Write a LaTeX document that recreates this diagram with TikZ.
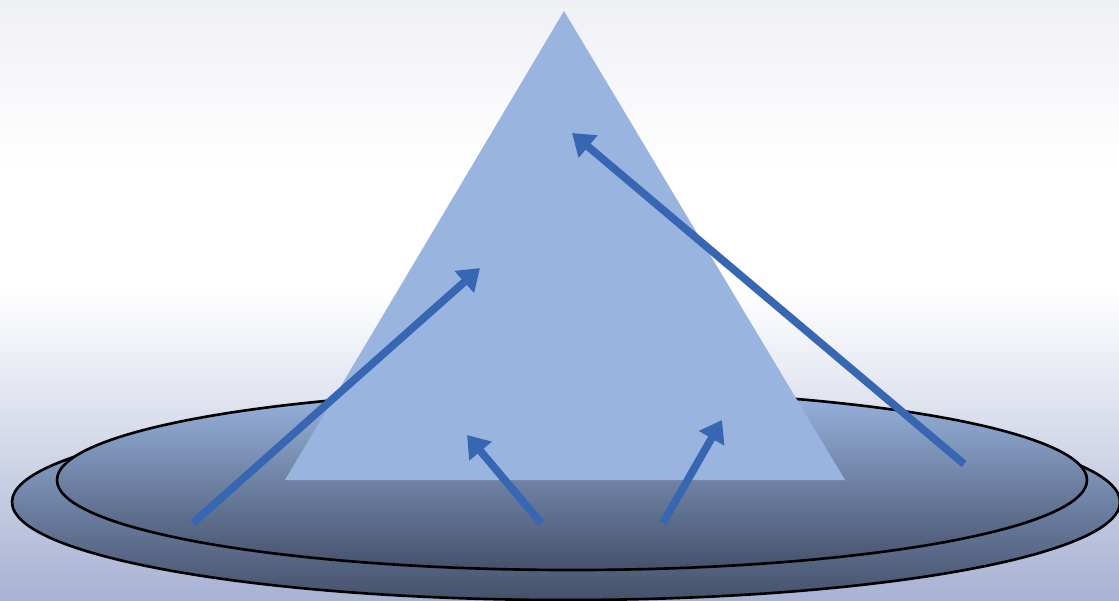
\documentclass[tikz,border=0pt]{standalone}
\usetikzlibrary{arrows.meta}
\definecolor{fondoarriba}{HTML}{EFF0F5}
\definecolor{fondoabajo}{HTML}{A8B2D3}
\definecolor{platoclaro}{HTML}{9AB4E0}
\definecolor{platooscuro}{HTML}{44516A}
\definecolor{piramide}{HTML}{9AB4E0}
\definecolor{flecha}{HTML}{3766B3}
\tikzset{
  plato/.style={draw=black, line width=1.5pt, top color=platoclaro, bottom color=platooscuro},
  empuje/.style={flecha, line width=4.4pt, -{Triangle[length=12pt, width=16pt]}}
}
\begin{document}
\begin{tikzpicture}[x=0.02cm, y=-0.02cm]
				% Fondo degradado
				\shade[top color=fondoarriba, bottom color=white] (0,0) rectangle (1119,170);
				\fill[white] (0,170) rectangle (1119,290);
				\shade[top color=white, bottom color=fondoabajo] (0,290) rectangle (1119,600);
				\useasboundingbox (0,0) rectangle (1119,600);
				
				% Platos (elipses)
				\path[plato] (566,502) ellipse [x radius=554, y radius=98];
				\path[plato] (572,480) ellipse [x radius=515, y radius=90];
				
				% Pirámide
				\fill[piramide] (564,11) -- (845,480) -- (285,480) -- cycle;
				
				% Flechas
				\coordinate (a1) at (193,523); \coordinate (b1) at (480,268);
				\coordinate (a2) at (541,523); \coordinate (b2) at (467,435);
				\coordinate (a3) at (663,523); \coordinate (b3) at (722,420);
				\coordinate (a4) at (964,464); \coordinate (b4) at (572,133);
				\draw[empuje] (a1) -- (b1);
				\draw[empuje] (a2) -- (b2);
				\draw[empuje] (a3) -- (b3);
				\draw[empuje] (a4) -- (b4);
\end{tikzpicture}
\end{document}
